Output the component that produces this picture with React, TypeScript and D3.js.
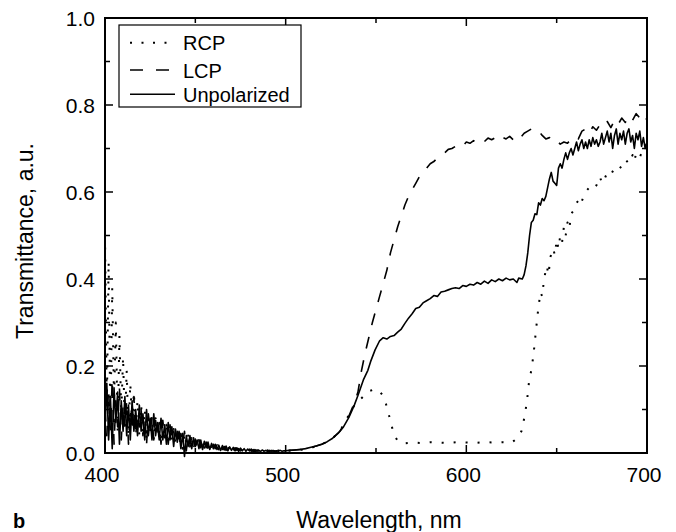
import React from "react";
import * as d3 from "d3";

// Wavelength grid of the noisy blue part (nm)
const noisyWavelengths = [
  400, 401, 402, 403, 404, 405, 406, 407, 408, 409,
  410, 411, 412, 413, 414, 415, 416, 417, 418, 419,
  420, 421, 422, 423, 424, 425, 426, 427, 428, 429,
  430, 431, 432, 433, 434, 435, 436, 437, 438, 439,
  440, 441, 442, 443, 444, 445, 446, 447, 448, 449,
  450, 451, 452, 453, 454, 455, 456, 457, 458, 459,
  460, 461, 462, 463, 464, 465, 466, 467, 468, 469,
  470, 471, 472, 473, 474, 475, 476, 477, 478, 479,
  480, 481, 482, 483, 484, 485, 486, 487, 488, 489,
  490, 491, 492, 493, 494, 495, 496, 497, 498, 499, 500,
];

const unpolNoisy = [
  0.06, 0.16, 0.03, 0.13, 0.01, 0.15, 0.07, 0.14, 0.02, 0.12,
  0.05, 0.13, 0.04, 0.11, 0.03, 0.12, 0.05, 0.10, 0.04, 0.11,
  0.05, 0.09, 0.03, 0.10, 0.04, 0.08, 0.03, 0.09, 0.04, 0.07,
  0.03, 0.08, 0.03, 0.065, 0.02, 0.07, 0.03, 0.06, 0.015, 0.055,
  0.025, 0.05, 0.01, 0.045, -0.008, 0.04, 0.015, 0.04, 0.01, 0.035,
  0.015, 0.03, 0.01, 0.03, 0.008, 0.027, 0.012, 0.025, 0.008, 0.022,
  0.01, 0.02, 0.008, 0.018, 0.006, 0.017, 0.007, 0.016, 0.005, 0.014,
  0.006, 0.013, 0.005, 0.012, 0.004, 0.011, 0.005, 0.01, 0.004, 0.009,
  0.005, 0.009, 0.003, 0.008, 0.004, 0.007, 0.003, 0.007, 0.004, 0.006,
  0.003, 0.006, 0.004, 0.006, 0.003, 0.005, 0.004, 0.006, 0.004, 0.005, 0.005,
];

const lcpNoisy = [
  0.10, 0.04, 0.14, 0.05, 0.17, 0.02, 0.12, 0.06, 0.15, 0.03,
  0.11, 0.06, 0.12, 0.02, 0.10, 0.05, 0.13, 0.04, 0.09, 0.06,
  0.10, 0.04, 0.08, 0.02, 0.09, 0.05, 0.08, 0.03, 0.075, 0.04,
  0.07, 0.02, 0.075, 0.035, 0.06, 0.02, 0.065, 0.03, 0.05, 0.02,
  0.05, 0.015, 0.045, 0.02, 0.05, 0.005, 0.04, 0.02, 0.035, 0.01,
  0.032, 0.014, 0.03, 0.012, 0.026, 0.01, 0.025, 0.012, 0.022, 0.008,
  0.02, 0.01, 0.019, 0.007, 0.017, 0.008, 0.015, 0.006, 0.014, 0.007,
  0.012, 0.005, 0.012, 0.006, 0.01, 0.005, 0.01, 0.004, 0.009, 0.005,
  0.008, 0.004, 0.008, 0.003, 0.007, 0.004, 0.007, 0.003, 0.006, 0.004,
  0.006, 0.003, 0.006, 0.004, 0.005, 0.004, 0.006, 0.003, 0.005, 0.004, 0.005,
];

const rcpNoisy = [
  0.50, 0.10, 0.44, 0.06, 0.38, 0.12, 0.30, 0.05, 0.27, 0.09,
  0.22, 0.06, 0.19, 0.04, 0.16, 0.07, 0.14, 0.05, 0.12, 0.04,
  0.11, 0.05, 0.10, 0.03, 0.09, 0.05, 0.085, 0.03, 0.08, 0.04,
  0.075, 0.025, 0.07, 0.03, 0.065, 0.02, 0.06, 0.03, 0.055, 0.02,
  0.05, 0.02, 0.05, 0.01, 0.045, 0.02, 0.04, 0.015, 0.035, 0.01,
  0.034, 0.012, 0.03, 0.01, 0.028, 0.012, 0.026, 0.01, 0.024, 0.008,
  0.022, 0.01, 0.02, 0.008, 0.018, 0.007, 0.016, 0.008, 0.015, 0.006,
  0.013, 0.005, 0.012, 0.006, 0.011, 0.005, 0.01, 0.004, 0.009, 0.005,
  0.008, 0.004, 0.008, 0.003, 0.007, 0.004, 0.007, 0.003, 0.006, 0.004,
  0.006, 0.003, 0.006, 0.004, 0.005, 0.004, 0.006, 0.003, 0.005, 0.004, 0.005,
];

// [wavelength, transmittance] beyond 500 nm
const unpolTail: [number, number][] = [
  [502, 0.006], [505, 0.007], [508, 0.008], [511, 0.01], [514, 0.013], [517, 0.016],
  [520, 0.02], [523, 0.026], [526, 0.034], [529, 0.045], [532, 0.06], [535, 0.082],
  [538, 0.11], [540, 0.132], [543, 0.168], [545.5, 0.19], [547, 0.21], [549.5, 0.237],
  [552, 0.258], [554, 0.265], [556, 0.262], [558, 0.268], [560, 0.27], [562, 0.278],
  [564, 0.285], [566, 0.298], [568, 0.31], [570, 0.32], [572, 0.332], [574, 0.335],
  [576, 0.345], [578, 0.35], [580, 0.355], [582, 0.362], [584, 0.36], [586, 0.37],
  [588, 0.372], [590, 0.375], [592, 0.378], [594, 0.38], [596, 0.378], [598, 0.385],
  [600, 0.383], [602, 0.388], [604, 0.386], [606, 0.392], [608, 0.388], [610, 0.395],
  [612, 0.39], [614, 0.398], [616, 0.394], [618, 0.4], [620, 0.396], [622, 0.402],
  [624, 0.398], [626, 0.4], [628, 0.392], [629, 0.402], [631, 0.4], [632, 0.41],
  [633, 0.43], [634, 0.46], [635, 0.5], [636, 0.53], [637, 0.535], [638, 0.55],
  [639, 0.548], [640, 0.575], [641, 0.57], [642, 0.585], [643, 0.58], [644, 0.59],
  [645, 0.61], [646, 0.63], [647, 0.645], [648, 0.625], [649, 0.62], [650, 0.615],
  [651, 0.655], [652, 0.665], [653, 0.655], [654, 0.675], [655, 0.69], [656, 0.675],
  [657, 0.69], [658, 0.7], [659, 0.685], [660, 0.7], [661, 0.715], [662, 0.695],
  [663, 0.71], [664, 0.72], [665, 0.7], [666, 0.715], [667, 0.7], [668, 0.72],
  [669, 0.705], [670, 0.725], [671, 0.71], [672, 0.72], [673, 0.705], [674, 0.715],
  [675, 0.735], [676, 0.71], [677, 0.725], [678, 0.74], [679, 0.715], [680, 0.735],
  [681, 0.7], [682, 0.73], [683, 0.745], [684, 0.71], [685, 0.735], [686, 0.72],
  [687, 0.74], [688, 0.71], [689, 0.735], [690, 0.745], [691, 0.715], [692, 0.73],
  [693, 0.7], [694, 0.735], [695, 0.72], [696, 0.74], [697, 0.705], [698, 0.725],
  [699, 0.7], [700, 0.715],
];

const lcpTail: [number, number][] = [
  [505, 0.007], [510, 0.009], [515, 0.014], [520, 0.02], [525, 0.03], [530, 0.05],
  [535, 0.085], [538, 0.115], [540, 0.14], [542, 0.19], [544, 0.23], [546, 0.265],
  [548, 0.3], [550, 0.33], [552, 0.36], [554, 0.39], [556, 0.42], [558, 0.46],
  [560, 0.49], [562, 0.52], [564, 0.545], [566, 0.57], [568, 0.59], [570, 0.605],
  [572, 0.62], [574, 0.635], [576, 0.645], [578, 0.655], [580, 0.665], [582, 0.67],
  [584, 0.678], [586, 0.685], [588, 0.69], [590, 0.698], [592, 0.7], [594, 0.705],
  [596, 0.71], [598, 0.705], [600, 0.715], [602, 0.712], [604, 0.718], [606, 0.713],
  [608, 0.72], [610, 0.716], [612, 0.724], [614, 0.72], [616, 0.725], [618, 0.718],
  [620, 0.726], [622, 0.722], [624, 0.728], [626, 0.72], [628, 0.73], [630, 0.725],
  [632, 0.735], [634, 0.74], [636, 0.745], [638, 0.738], [640, 0.74], [642, 0.73],
  [644, 0.722], [646, 0.725], [648, 0.715], [650, 0.718], [652, 0.71], [654, 0.715],
  [656, 0.712], [658, 0.722], [660, 0.728], [662, 0.722], [664, 0.74], [666, 0.745],
  [668, 0.735], [670, 0.75], [672, 0.742], [674, 0.755], [676, 0.75], [678, 0.762],
  [680, 0.748], [682, 0.765], [684, 0.755], [686, 0.77], [688, 0.76], [690, 0.775],
  [692, 0.765], [694, 0.78], [696, 0.77], [698, 0.78], [700, 0.765],
];

const rcpTail: [number, number][] = [
  [505, 0.006], [510, 0.008], [515, 0.013], [520, 0.02], [525, 0.03], [530, 0.05],
  [534, 0.08], [538, 0.11], [542, 0.126], [546, 0.142], [549, 0.146], [552, 0.143],
  [554, 0.13], [555.5, 0.113], [557, 0.09], [558.5, 0.065], [560, 0.042], [562, 0.028],
  [565, 0.022], [570, 0.024], [575, 0.023], [580, 0.025], [585, 0.024], [590, 0.023],
  [595, 0.025], [600, 0.024], [605, 0.023], [610, 0.025], [615, 0.024], [620, 0.025],
  [625, 0.024], [627, 0.03], [629, 0.04], [630.5, 0.05], [632.4, 0.087], [633.7, 0.124],
  [634.6, 0.16], [636.3, 0.198], [637.4, 0.235], [638.3, 0.272], [639.5, 0.32],
  [641, 0.37], [642, 0.36], [643, 0.4], [644.5, 0.43], [645.5, 0.41], [646.5, 0.45],
  [648, 0.47], [649, 0.455], [650, 0.49], [651, 0.47], [652, 0.5], [653, 0.485],
  [654, 0.52], [655, 0.5], [656, 0.53], [657, 0.515], [658, 0.55], [660, 0.56],
  [661, 0.575], [662, 0.58], [663, 0.57], [664, 0.58], [665, 0.59], [666, 0.6],
  [668, 0.61], [670, 0.605], [672, 0.615], [674, 0.635], [675, 0.62], [676, 0.625],
  [678, 0.645], [680, 0.64], [682, 0.655], [684, 0.65], [686, 0.66], [688, 0.675],
  [690, 0.665], [692, 0.685], [693, 0.67], [694, 0.69], [696, 0.68], [698, 0.7],
  [700, 0.71],
];

const xMajorTicks = [400, 500, 600, 700];
const xMinorTicks = [450, 550, 650];
const yMajorTicks = [0, 0.2, 0.4, 0.6, 0.8, 1.0];
const yMinorTicks = [0.1, 0.3, 0.5, 0.7, 0.9];

const legendItems = [
  { label: "RCP", dash: "2,9.5" },
  { label: "LCP", dash: "13,13" },
  { label: "Unpolarized", dash: "none" },
];

const FONT = "'Liberation Sans', Arial, Helvetica, sans-serif";

export default function App() {
  const W = 676;
  const H = 532;
  const left = 105, right = 647, top = 18, bottom = 453;
  const x = d3.scaleLinear().domain([400, 700]).range([left, right]);
  const y = d3.scaleLinear().domain([0, 1]).range([bottom, top]);

  const build = (vals: number[], tail: [number, number][]) =>
    noisyWavelengths.map((w, i) => [w, vals[i]] as [number, number]).concat(tail);

  const line = d3
    .line<[number, number]>()
    .x((d) => x(d[0]))
    .y((d) => y(d[1]));

  const series = [
    { data: build(rcpNoisy, rcpTail), dash: "2,10", w: 2 },
    { data: build(lcpNoisy, lcpTail), dash: "12,12", w: 1.6 },
    { data: build(unpolNoisy, unpolTail), dash: "none", w: 1.6 },
  ];

  const majorLen = 8;
  const minorLen = 5;

  return (
    <svg width={W} height={H} style={{ position: "absolute", left: 0, top: 0, background: "#fff" }}>
      <rect x={0} y={0} width={W} height={H} fill="#fff" />
      <g fill="none" stroke="#000" strokeLinejoin="round">
        {series.map((s, i) => (
          <path
            key={i}
            d={line(s.data) || ""}
            strokeWidth={s.w}
            strokeDasharray={s.dash}
          />
        ))}
      </g>

      {/* frame */}
      <rect x={left} y={top} width={right - left} height={bottom - top} fill="none" stroke="#000" strokeWidth={2} />

      {/* ticks */}
      <g stroke="#000" strokeWidth={1.5}>
        {xMajorTicks.map((t) => (
          <g key={"xm" + t}>
            <line x1={x(t)} x2={x(t)} y1={bottom} y2={bottom - majorLen} />
            <line x1={x(t)} x2={x(t)} y1={top} y2={top + majorLen} />
          </g>
        ))}
        {xMinorTicks.map((t) => (
          <g key={"xn" + t}>
            <line x1={x(t)} x2={x(t)} y1={bottom} y2={bottom - minorLen} />
            <line x1={x(t)} x2={x(t)} y1={top} y2={top + minorLen} />
          </g>
        ))}
        {yMajorTicks.map((t) => (
          <g key={"ym" + t}>
            <line x1={left} x2={left + majorLen} y1={y(t)} y2={y(t)} />
            <line x1={right} x2={right - majorLen} y1={y(t)} y2={y(t)} />
          </g>
        ))}
        {yMinorTicks.map((t) => (
          <g key={"yn" + t}>
            <line x1={left} x2={left + minorLen} y1={y(t)} y2={y(t)} />
            <line x1={right} x2={right - minorLen} y1={y(t)} y2={y(t)} />
          </g>
        ))}
      </g>

      {/* tick labels */}
      <g fontFamily={FONT} fontSize={21} fill="#000">
        {xMajorTicks.map((t) => (
          <text key={"xl" + t} x={x(t) - 3} y={bottom + 29} textAnchor="middle">
            {t}
          </text>
        ))}
        {yMajorTicks.map((t) => (
          <text key={"yl" + t} x={left - 10} y={y(t) + 8} textAnchor="end">
            {t.toFixed(1)}
          </text>
        ))}
      </g>

      {/* axis titles */}
      <text x={379} y={528} textAnchor="middle" fontFamily={FONT} fontSize={23}>
        Wavelength, nm
      </text>
      <text
        transform={`translate(33,241) rotate(-90)`}
        textAnchor="middle"
        fontFamily={FONT}
        fontSize={23}
      >
        Transmittance, a.u.
      </text>
      <text x={13} y={528} fontFamily={FONT} fontSize={20} fontWeight="bold">
        b
      </text>

      {/* legend */}
      <g>
        <rect x={119} y={25} width={182} height={82} fill="#fff" stroke="#000" strokeWidth={1.2} />
        {legendItems.map((it, i) => {
          const ly = [42.7, 70, 94.3][i];
          return (
            <g key={it.label}>
              <line
                x1={130}
                x2={175}
                y1={ly}
                y2={ly}
                stroke="#000"
                strokeWidth={i === 0 ? 2 : 1.6}
                strokeDasharray={it.dash}
              />
              <text x={183} y={ly + 7.5} fontFamily={FONT} fontSize={20}>
                {it.label}
              </text>
            </g>
          );
        })}
      </g>
    </svg>
  );
}
